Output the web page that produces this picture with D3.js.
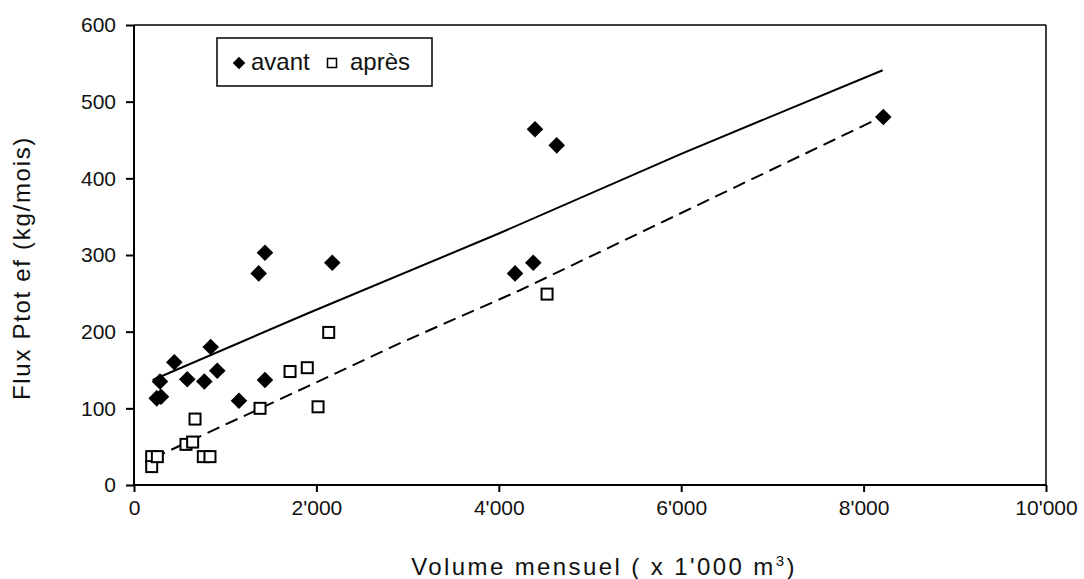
<!DOCTYPE html>
<html>
<head>
<meta charset="utf-8">
<script src="https://cdn.jsdelivr.net/npm/d3@7"></script>
<style>
  body { margin: 0; background: #fff; }
  svg { display: block; font-family: "Liberation Sans", Arial, sans-serif; }
</style>
</head>
<body>
<svg id="chart" width="1084" height="579"></svg>
<script>
// points "avant" (diamonds)
var avantX = [249, 296, 285, 442, 584, 771, 841, 913, 1151, 1436, 1367, 1436, 2174, 4178, 4378, 4397, 4635, 8216];
var avantY = [113, 115, 135, 160, 138, 135, 180, 149, 110, 137, 276, 303, 290, 276, 290, 464, 443, 480];

// points "après" (open squares)
var apresX = [194, 194, 256, 570, 643, 669, 760, 833, 1382, 1711, 1900, 2018, 2135, 4529];
var apresY = [37, 24, 37, 53, 56, 86, 37, 37, 100, 148, 153, 102, 199, 249];

// trend lines, vertices
var lineAvantX = [205, 1908, 4000, 6000, 8209];
var lineAvantY = [137, 224, 328, 432, 541];
var lineApresX = [210, 1911, 2917, 4232, 8180];
var lineApresY = [35, 129, 185, 254, 479];

var xTicks = [0, 2000, 4000, 6000, 8000, 10000];
var yTicks = [0, 100, 200, 300, 400, 500, 600];

var svg = d3.select("#chart");
var plotL = 134, plotR = 1046, plotT = 25, plotB = 485;

var x = d3.scaleLinear().domain([0, 10000]).range([plotL, plotR]);
var y = d3.scaleLinear().domain([0, 600]).range([plotB, plotT]);

// thousands with apostrophe
function fmt(v){
    return d3.format(",")(v).replace(/,/g, "'");
}

// frame (top + right)
svg.append("line").attr("x1", plotL).attr("x2", plotR).attr("y1", plotT).attr("y2", plotT)
    .attr("stroke", "#000").attr("stroke-width", 1.5);
svg.append("line").attr("x1", plotR).attr("x2", plotR).attr("y1", plotT).attr("y2", plotB)
    .attr("stroke", "#000").attr("stroke-width", 1.5);

// axes
var xAxis = svg.append("g").attr("transform", "translate(0," + plotB + ")")
    .call(d3.axisBottom(x).tickValues(xTicks).tickFormat(fmt).tickSize(7).tickPadding(8));
var yAxis = svg.append("g").attr("transform", "translate(" + plotL + ",0)")
    .call(d3.axisLeft(y).tickValues(yTicks).tickSize(8).tickPadding(10));

[xAxis, yAxis].forEach(function(a){
    a.select(".domain").attr("stroke", "#000").attr("stroke-width", 2);
    a.selectAll(".tick line").attr("stroke", "#000").attr("stroke-width", 2);
    a.selectAll(".tick text").attr("fill", "#111").style("font-size", "21px")
        .style("font-family", "'Liberation Sans', Arial, sans-serif");
});
xAxis.select(".domain").attr("d", "M" + plotL + ",0H" + plotR);
yAxis.select(".domain").attr("d", "M0," + plotT + "V" + plotB);

// lines
var line = d3.line().x(function(d){ return x(d[0]); }).y(function(d){ return y(d[1]); });

svg.append("path")
    .datum(d3.zip(lineAvantX, lineAvantY))
    .attr("d", line).attr("fill", "none").attr("stroke", "#000").attr("stroke-width", 2);

svg.append("path")
    .datum(d3.zip(lineApresX, lineApresY))
    .attr("d", line).attr("fill", "none").attr("stroke", "#000").attr("stroke-width", 2)
    .attr("stroke-dasharray", "13,7");

// markers
var diamond = d3.symbol().type(d3.symbolDiamond2).size(175);

svg.append("g").selectAll("rect")
    .data(d3.zip(apresX, apresY))
    .enter().append("rect")
    .attr("x", function(d){ return x(d[0]) - 5.5; })
    .attr("y", function(d){ return y(d[1]) - 5.5; })
    .attr("width", 11).attr("height", 11)
    .attr("fill", "#fff").attr("stroke", "#000").attr("stroke-width", 2);

svg.append("g").selectAll("path")
    .data(d3.zip(avantX, avantY))
    .enter().append("path")
    .attr("d", diamond)
    .attr("transform", function(d){ return "translate(" + x(d[0]) + "," + y(d[1]) + ")"; })
    .attr("fill", "#000");

// legend
var lg = svg.append("g");
lg.append("rect").attr("x", 217).attr("y", 38).attr("width", 215).attr("height", 48)
    .attr("fill", "#fff").attr("stroke", "#000").attr("stroke-width", 1.5);
lg.append("path").attr("d", d3.symbol().type(d3.symbolDiamond2).size(100))
    .attr("transform", "translate(239,63)").attr("fill", "#000");
lg.append("text").attr("x", 251).attr("y", 70).text("avant")
    .style("font-size", "24px").attr("fill", "#111");
lg.append("rect").attr("x", 327.5).attr("y", 58.5).attr("width", 9).attr("height", 9)
    .attr("fill", "#fff").attr("stroke", "#000").attr("stroke-width", 1.5);
lg.append("text").attr("x", 350).attr("y", 70).text("après")
    .style("font-size", "24px").attr("fill", "#111");

// axis titles
var xt = svg.append("text").attr("x", 604).attr("y", 575).attr("text-anchor", "middle")
    .style("font-size", "24px").style("letter-spacing", "2.4px").attr("fill", "#111");
xt.append("tspan").text("Volume mensuel ( x 1'000 m");
xt.append("tspan").attr("dy", -9).style("font-size", "15px").text("3");
xt.append("tspan").attr("dy", 9).text(")");

svg.append("text")
    .attr("transform", "translate(30,268) rotate(-90)")
    .attr("text-anchor", "middle")
    .style("font-size", "24px").style("letter-spacing", "1.7px").attr("fill", "#111")
    .text("Flux Ptot ef (kg/mois)");
</script>
</body>
</html>
